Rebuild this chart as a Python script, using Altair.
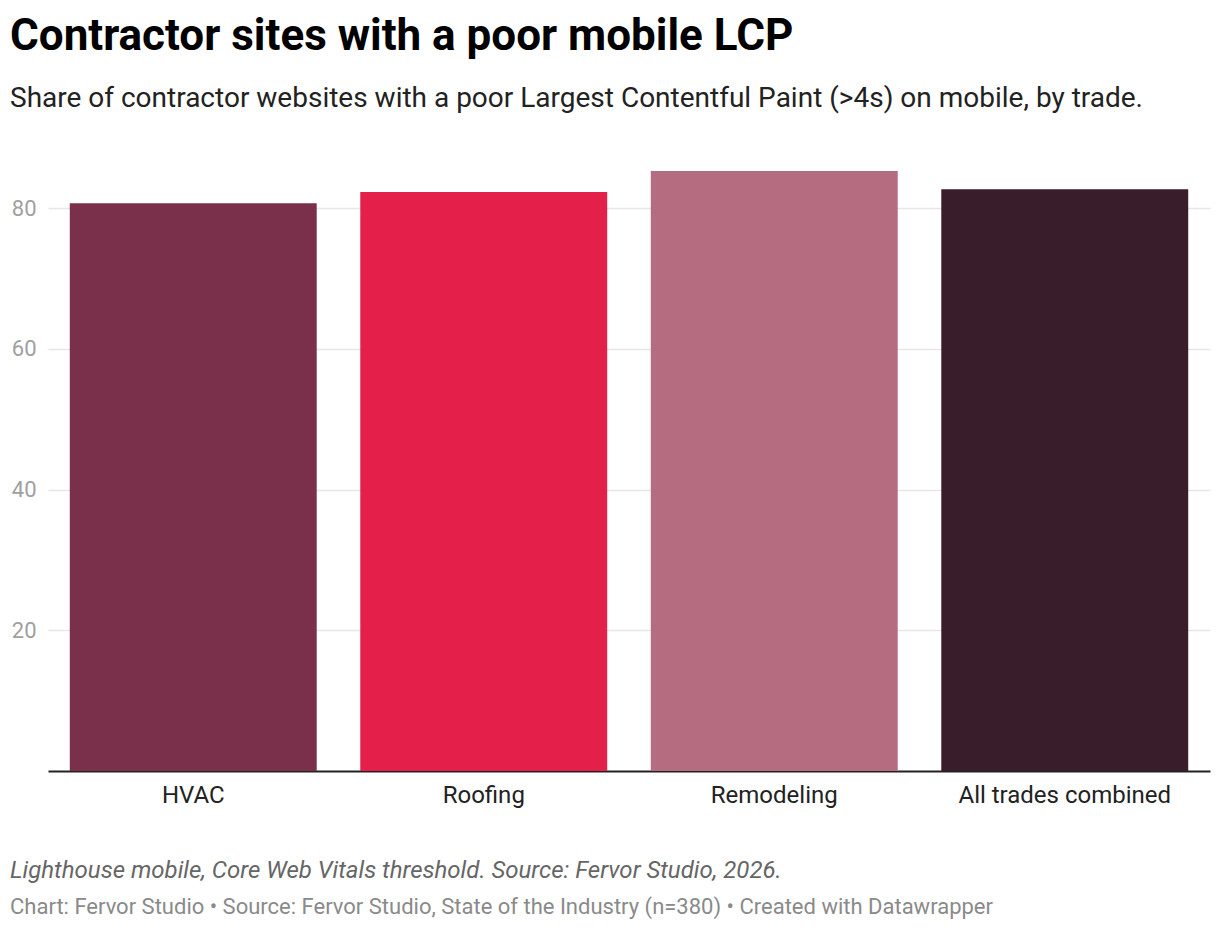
import altair as alt
import pandas as pd

trades = ["HVAC", "Roofing", "Remodeling", "All trades combined"]
shares = [80.7, 82.3, 85.3, 82.7]
colors = ["#7a2f4b", "#e31f4a", "#b56b80", "#3a1d2b"]
y_ticks = [20, 40, 60, 80]

title_text = ["Contractor sites with a poor mobile LCP"]
subtitle_text = ["Share of contractor websites with a poor Largest Contentful Paint (>4s) on mobile, by trade."]
note_text = ["Lighthouse mobile, Core Web Vitals threshold. Source: Fervor Studio, 2026."]
credit_text = ["Chart: Fervor Studio \u2022 Source: Fervor Studio, State of the Industry (n=380) \u2022 Created with Datawrapper"]

df = pd.DataFrame({"trade": trades, "share": shares})

W, H = 1162, 605

bars = alt.Chart(df).mark_bar().encode(
    x=alt.X(
        "trade:N", sort=trades,
        scale=alt.Scale(paddingInner=0.15, paddingOuter=0.075),
        axis=alt.Axis(title=None, labelAngle=0, labelFontSize=24, labelColor="#222222",
                      labelPadding=12, labelLimit=400, ticks=False, domainColor="#222222",
                      domainWidth=2, grid=False),
    ),
    y=alt.Y(
        "share:Q",
        scale=alt.Scale(domain=[0, 86], nice=False),
        axis=alt.Axis(title=None, values=y_ticks, ticks=False, domain=False,
                      labelFontSize=22, labelColor="#a0a0a0", labelPadding=12,
                      gridColor="#e6e6e6", gridWidth=1.5),
    ),
    color=alt.Color("trade:N", sort=trades, scale=alt.Scale(domain=trades, range=colors), legend=None),
)


def text_layer(values, x, y, size, color, weight="normal", style="normal"):
    return alt.Chart(pd.DataFrame({"t": values})).mark_text(
        align="left", baseline="alphabetic", fontSize=size, color=color,
        fontWeight=weight, fontStyle=style, font="Roboto",
    ).encode(text="t:N", x=alt.value(x), y=alt.value(y))


title = text_layer(title_text, -38, -116, 44, "#000000", weight="bold")
subtitle = text_layer(subtitle_text, -38, -59, 28, "#222222")
note = text_layer(note_text, -38, 712, 24, "#666666", style="italic")
credit = text_layer(credit_text, -38, 748, 22, "#8a8a8a")

chart = alt.layer(bars, title, subtitle, note, credit).properties(
    width=W, height=H,
    autosize=alt.AutoSizeParams(type="none"),
    padding={"left": 40, "top": 158, "right": 2, "bottom": 151},
).configure(font="Roboto").configure_view(stroke=None)

chart.save("out.html", embed_options={"renderer": "svg", "actions": False})
